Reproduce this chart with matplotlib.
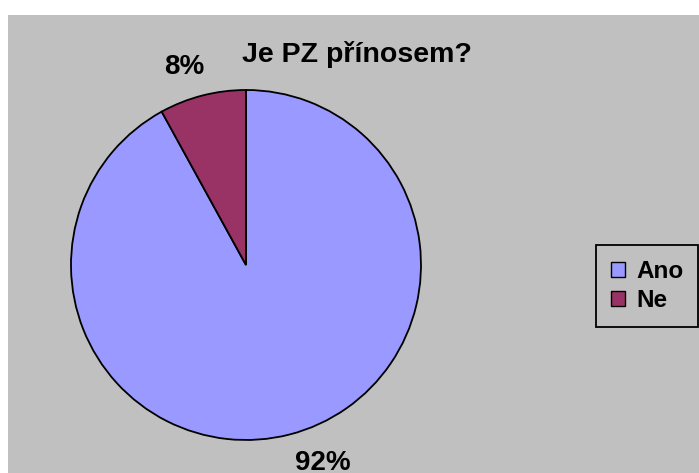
import matplotlib
matplotlib.use("Agg")
import matplotlib.pyplot as plt
from matplotlib.patches import Rectangle

labels = ["Ano", "Ne"]
values = [92, 8]
colors = ["#9999FF", "#993366"]
title = "Je PZ přínosem?"

plt.rcParams['font.family'] = ['Liberation Sans', 'DejaVu Sans']

fig = plt.figure(figsize=(6.99, 4.73), dpi=100)
W, H = 699, 473

# gray chart area
fig.patches.append(Rectangle((8 / W, 0), 1 - 8 / W, 1 - 15 / H,
                             transform=fig.transFigure, facecolor="#C0C0C0",
                             edgecolor="none", zorder=-5))

ax = fig.add_axes([71 / W, (H - 440) / H, 350 / W, 350 / H])
ax.set_facecolor("none")
ax.set_zorder(2)
wedges, texts, autotexts = ax.pie(values, colors=colors, startangle=90, counterclock=False,
                                  autopct="%d%%", pctdistance=1.17,
                                  wedgeprops=dict(edgecolor="black", linewidth=1.3))
# excel puts the labels a bit further sideways
nudge = [0.15, -0.06]
for t, dx in zip(autotexts, nudge):
    t.set_fontsize(20)
    t.set_fontweight("bold")
    x, y = t.get_position()
    t.set_position((x + dx, y))
ax.set_xlim(-1, 1)
ax.set_ylim(-1, 1)
ax.set_aspect("equal")
ax.axis("off")

fig.text(357 / W, 1 - 55 / H, title, ha="center", va="center", fontsize=20.5, fontweight="bold")

leg = fig.legend(wedges, labels, loc="center left", bbox_to_anchor=(596 / W, (H - 286) / H),
                 prop=dict(weight="bold", size=17.5), frameon=True, fancybox=False,
                 handlelength=0.6, handleheight=0.6, handletextpad=0.45, borderpad=0.6,
                 borderaxespad=0, labelspacing=0.25)
fr = leg.get_frame()
fr.set_facecolor("#C0C0C0")
fr.set_edgecolor("black")
fr.set_linewidth(1.3)
fr.set_alpha(1)
for h in leg.legend_handles:
    h.set_linewidth(1.0)

fig.savefig("out.png", dpi=100)
